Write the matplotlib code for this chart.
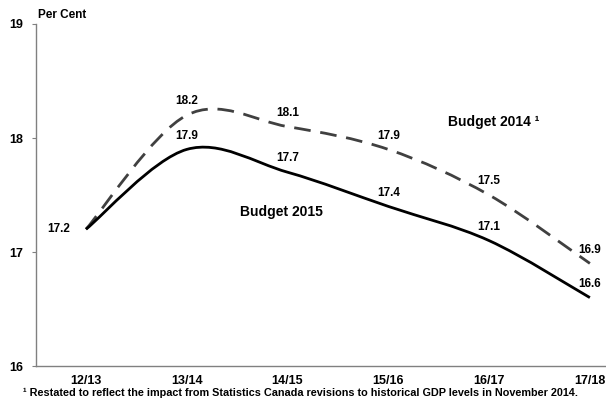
from matplotlib import pyplot as plt
from matplotlib.path import Path
from matplotlib.patches import PathPatch
import numpy as np

plt.rcParams['font.family'] = ['Liberation Sans', 'DejaVu Sans']
plt.rcParams['font.weight'] = 'bold'

years = ["12/13", "13/14", "14/15", "15/16", "16/17", "17/18"]
budget2015 = [17.2, 17.9, 17.7, 17.4, 17.1, 16.6]
budget2014 = [17.2, 18.2, 18.1, 17.9, 17.5, 16.9]


def smoothPath(xs, ys):
    # Excel-style smoothed line: bezier segments through every point
    pts = np.column_stack([xs, ys]).astype(float)
    ext = np.vstack([pts[0], pts, pts[-1]])
    verts = [pts[0]]
    codes = [Path.MOVETO]
    for i in range(len(pts) - 1):
        p0, p1, p2, p3 = ext[i], ext[i + 1], ext[i + 2], ext[i + 3]
        verts += [p1 + (p2 - p0) / 6, p2 - (p3 - p1) / 6, p2]
        codes += [Path.CURVE4] * 3
    return Path(verts, codes)


fig = plt.figure(figsize=(6.06, 4.04), dpi=100)
ax = fig.add_axes([0.0594, 0.094, 0.9406, 0.8466])
x = np.arange(len(years))

ax.add_patch(PathPatch(smoothPath(x, budget2014), facecolor="none", edgecolor="#404040",
                       lw=2.0, linestyle=(0, (6, 3.5)), capstyle="butt"))
ax.add_patch(PathPatch(smoothPath(x, budget2015), facecolor="none", edgecolor="black", lw=2.0))

for i, v in enumerate(budget2015):
    if i == 0:
        ax.annotate("%.1f" % v, (x[i], v), xytext=(-20, 0), textcoords="offset points",
                    ha="center", va="center", fontsize=8.5)
    else:
        ax.annotate("%.1f" % v, (x[i], v), xytext=(0, 10), textcoords="offset points",
                    ha="center", va="center", fontsize=8.5)
for i, v in enumerate(budget2014):
    if i == 0:
        continue
    ax.annotate("%.1f" % v, (x[i], v), xytext=(0, 10), textcoords="offset points",
                ha="center", va="center", fontsize=8.5)

ax.text(1.94, 17.35, "Budget 2015", ha="center", va="center", fontsize=10)
ax.text(4.05, 18.14, "Budget 2014 \u00b9", ha="center", va="center", fontsize=10)

ax.set_xlim(-0.496, 5.16)
ax.set_ylim(16, 19)
ax.set_yticks([16, 17, 18, 19])
ax.set_xticks(x)
ax.set_xticklabels(years)
ax.tick_params(axis="y", length=3, width=0.8, color="#808080", pad=6, labelsize=9)
ax.tick_params(axis="x", length=0, pad=6.5, labelsize=9)
for s in ["top", "right"]:
    ax.spines[s].set_visible(False)
for s in ["left", "bottom"]:
    ax.spines[s].set_color("#808080")
    ax.spines[s].set_linewidth(1.0)

fig.text(0.063, 0.963, "Per Cent", ha="left", va="center", fontsize=8.5)
fig.text(0.495, 0.028, "\u00b9 Restated to reflect the impact from Statistics Canada revisions to historical GDP levels in November 2014.",
         ha="center", va="center", fontsize=7.8)

fig.savefig("out.png", dpi=100)
